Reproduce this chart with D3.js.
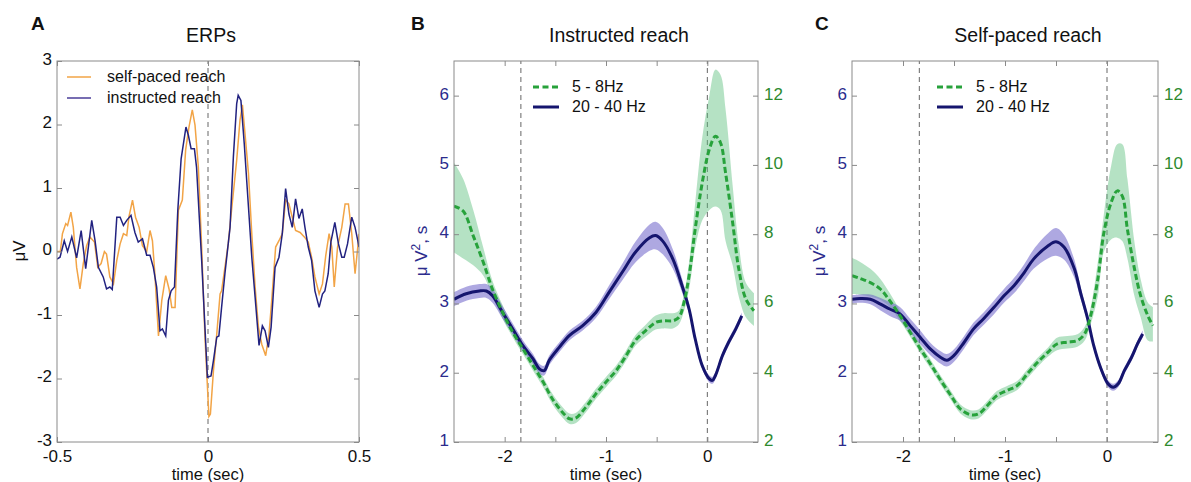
<!DOCTYPE html>
<html>
<head>
<meta charset="utf-8">
<script src="https://cdn.jsdelivr.net/npm/d3@7"></script>
<style>
  body { margin: 0; background: #fff; }
  text { font-family: "Liberation Sans", Arial, sans-serif; }
</style>
</head>
<body>
<svg id="fig" width="1191" height="482"></svg>
<script>
  var svg = d3.select("#fig");

  // ---------- panel A: ERPs (time in sec, amplitude in uV)
  var instrT = [-0.500,-0.490,-0.476,-0.465,-0.451,-0.435,-0.420,-0.405,-0.385,-0.374,-0.363,-0.347,-0.336,-0.325,-0.317,
                -0.302,-0.291,-0.280,-0.269,-0.255,-0.242,-0.231,-0.217,-0.203,-0.192,-0.181,-0.170,-0.159,-0.151,-0.140,
                -0.131,-0.122,-0.111,-0.100,-0.089,-0.073,-0.065,-0.056,-0.045,-0.038,-0.021,-0.009,-0.002,0.010,0.018,
                0.029,0.036,0.045,0.056,0.073,0.084,0.095,0.100,0.109,0.120,0.134,0.145,0.156,0.169,0.180,0.189,0.200,
                0.209,0.222,0.235,0.246,0.257,0.268,0.279,0.290,0.301,0.312,0.321,0.332,0.343,0.354,0.368,0.379,0.387,
                0.398,0.407,0.420,0.432,0.443,0.451,0.462,0.476,0.487,0.496,0.500];
  var instrV = [-0.12,-0.09,0.17,0.00,0.23,-0.10,0.33,-0.27,0.49,0.17,-0.25,-0.40,-0.59,-0.56,-0.60,
                0.54,0.54,0.41,0.49,0.57,0.30,0.15,0.20,-0.06,-0.06,-0.25,-0.56,-1.25,-1.22,-1.33,
                -0.77,-0.62,-0.56,0.65,1.46,1.96,1.83,1.62,1.62,1.33,-0.14,-1.30,-1.98,-1.96,-1.72,
                -1.35,-1.33,-0.88,-0.35,0.38,1.49,2.33,2.46,2.38,1.70,0.70,-0.09,-0.72,-1.48,-1.17,-1.25,-1.51,
                -1.19,-0.25,-0.09,0.28,0.99,0.59,0.38,0.83,0.52,0.67,0.38,0.07,-0.14,-0.62,-0.88,-0.67,-0.62,
                -0.35,0.15,0.46,0.12,-0.09,-0.09,0.12,0.54,0.38,0.17,0.07];

  var selfT = [-0.500,-0.489,-0.482,-0.471,-0.465,-0.454,-0.446,-0.435,-0.424,-0.413,-0.402,-0.391,-0.376,-0.365,-0.354,
               -0.343,-0.336,-0.325,-0.313,-0.302,-0.291,-0.280,-0.269,-0.262,-0.250,-0.240,-0.228,-0.217,-0.203,-0.192,
               -0.184,-0.176,-0.164,-0.153,-0.140,-0.129,-0.120,-0.109,-0.098,-0.085,-0.074,-0.063,-0.052,-0.043,-0.032,
               -0.021,-0.010,0.003,0.008,0.018,0.029,0.040,0.045,0.056,0.067,0.078,0.095,0.106,0.114,0.123,0.134,0.145,
               0.156,0.167,0.178,0.191,0.202,0.211,0.224,0.235,0.246,0.257,0.268,0.279,0.290,0.305,0.319,0.332,0.343,
               0.354,0.368,0.379,0.390,0.401,0.410,0.418,0.429,0.443,0.454,0.465,0.476,0.487,0.496,0.500];
  var selfV = [0.00,0.00,0.28,0.44,0.41,0.62,0.38,-0.25,-0.59,-0.19,0.09,0.23,0.15,-0.25,-0.19,
               0.00,-0.04,-0.40,-0.51,-0.14,0.12,0.28,0.25,0.54,0.81,0.54,0.38,0.09,0.00,0.33,
               0.17,-0.35,-1.33,-0.77,-0.38,-0.59,-0.88,-0.88,0.65,0.81,1.60,1.96,2.23,1.99,1.33,
               0.07,-1.35,-2.60,-2.56,-1.88,-1.30,-0.67,-0.62,-0.25,0.12,0.65,1.44,2.07,2.31,1.83,1.23,0.28,
               -0.56,-1.19,-1.46,-1.64,-1.30,-0.77,0.07,0.17,0.28,0.81,0.75,0.54,0.33,0.30,0.23,0.15,-0.09,
               -0.40,-0.67,-0.51,-0.06,0.28,0.07,-0.56,0.07,0.38,0.75,0.75,0.28,-0.35,0.07,0.28];

  // ---------- panel B: instructed reach
  var bBetaT   = [-2.50,-2.38,-2.25,-2.18,-2.12,-2.02,-1.92,-1.82,-1.72,-1.66,-1.61,-1.56,-1.46,-1.36,-1.23,-1.10,-0.97,
                  -0.84,-0.71,-0.57,-0.51,-0.44,-0.34,-0.25,-0.18,-0.12,-0.05,0.02,0.05,0.08,0.15,0.21,0.28,0.34];
  var bBeta    = [3.06,3.14,3.18,3.18,3.11,2.87,2.63,2.39,2.20,2.06,2.03,2.18,2.37,2.54,2.68,2.87,3.16,
                  3.45,3.74,3.95,3.98,3.90,3.64,3.26,2.92,2.49,2.10,1.91,1.89,1.96,2.25,2.44,2.63,2.82];
  var bBetaSem = [0.10,0.10,0.10,0.10,0.10,0.09,0.08,0.08,0.07,0.07,0.07,0.07,0.07,0.07,0.07,0.08,0.10,
                  0.12,0.15,0.19,0.20,0.19,0.14,0.10,0.07,0.05,0.05,0.05,0.05,0.05,0.05,0.05,0.05,0.05];
  var bThetaT  = [-2.50,-2.41,-2.31,-2.21,-2.12,-2.02,-1.92,-1.82,-1.72,-1.62,-1.53,-1.43,-1.36,-1.30,-1.20,-1.10,-1.00,
                  -0.90,-0.80,-0.71,-0.61,-0.51,-0.43,-0.34,-0.28,-0.23,-0.18,-0.12,-0.05,0.02,0.08,0.13,0.18,0.25,
                  0.31,0.38,0.46];
  var bTheta   = [8.81,8.67,7.95,7.18,6.41,5.74,5.17,4.69,4.21,3.73,3.25,2.86,2.67,2.69,3.00,3.39,3.73,
                  4.06,4.50,4.93,5.21,5.45,5.50,5.50,5.60,6.03,6.80,8.14,9.49,10.45,10.83,10.64,9.77,8.33,
                  7.00,6.13,5.79];
  var bThetaLo = [7.47,7.30,7.10,6.80,6.20,5.55,5.02,4.54,4.06,3.58,3.10,2.71,2.52,2.54,2.85,3.24,3.58,
                  3.91,4.35,4.78,5.04,5.25,5.28,5.28,5.40,5.78,6.40,7.60,8.40,8.70,8.80,8.70,7.80,7.10,
                  6.20,5.60,5.35];
  var bThetaHi = [10.06,9.60,8.70,7.60,6.65,5.95,5.32,4.84,4.36,3.88,3.40,3.01,2.82,2.84,3.15,3.54,3.88,
                  4.21,4.65,5.08,5.38,5.65,5.72,5.72,5.80,6.28,7.20,8.90,10.80,12.00,12.75,12.60,11.60,9.40,
                  7.70,6.60,6.30];

  // ---------- panel C: self-paced reach
  var cBetaT   = [-2.50,-2.42,-2.32,-2.22,-2.13,-2.03,-1.93,-1.83,-1.73,-1.63,-1.57,-1.50,-1.40,-1.31,-1.21,-1.11,-1.01,
                  -0.91,-0.81,-0.72,-0.58,-0.50,-0.42,-0.32,-0.26,-0.19,-0.13,-0.06,0.01,0.06,0.11,0.17,0.24,0.30,0.35];
  var cBeta    = [3.06,3.07,3.06,2.99,2.92,2.85,2.68,2.51,2.34,2.22,2.18,2.25,2.44,2.63,2.78,2.94,3.11,
                  3.26,3.45,3.64,3.83,3.89,3.81,3.50,3.16,2.78,2.39,2.06,1.84,1.79,1.84,2.03,2.22,2.42,2.56];
  var cBetaSem = [0.06,0.06,0.07,0.09,0.10,0.10,0.10,0.10,0.09,0.09,0.09,0.09,0.09,0.09,0.09,0.10,0.10,
                  0.11,0.12,0.14,0.18,0.20,0.18,0.13,0.09,0.06,0.05,0.05,0.05,0.05,0.05,0.05,0.05,0.05,0.05];
  var cThetaT  = [-2.50,-2.42,-2.32,-2.22,-2.13,-2.03,-1.93,-1.83,-1.73,-1.63,-1.53,-1.44,-1.34,-1.26,-1.17,-1.08,-0.98,
                  -0.88,-0.78,-0.68,-0.58,-0.49,-0.39,-0.29,-0.22,-0.16,-0.09,-0.03,0.04,0.10,0.15,0.20,0.27,0.33,
                  0.40,0.45];
  var cTheta   = [6.80,6.72,6.60,6.41,6.08,5.65,5.17,4.69,4.25,3.78,3.34,2.96,2.79,2.81,3.06,3.34,3.49,
                  3.63,3.97,4.30,4.59,4.83,4.88,4.93,5.12,5.65,6.70,8.05,8.91,9.25,9.10,8.14,6.99,6.22,
                  5.65,5.36];
  var cThetaLo = [6.27,6.25,6.20,6.10,5.90,5.50,5.04,4.56,4.12,3.65,3.21,2.83,2.66,2.68,2.93,3.21,3.36,
                  3.50,3.84,4.17,4.46,4.65,4.70,4.75,4.92,5.40,6.20,7.50,7.85,7.90,7.80,7.30,6.20,5.60,
                  4.93,4.90];
  var cThetaHi = [7.32,7.20,7.00,6.70,6.30,5.80,5.30,4.82,4.38,3.91,3.47,3.09,2.92,2.94,3.19,3.47,3.62,
                  3.76,4.10,4.43,4.72,5.01,5.06,5.11,5.32,5.90,7.20,8.60,9.96,10.60,10.60,9.60,7.75,6.70,
                  6.03,5.90];

  // ---------- ticks, labels, events
  var erpTimeTicks = [-0.5, 0, 0.5];
  var erpAmpTicks  = [-3, -2, -1, 0, 1, 2, 3];
  var timeTicks    = [-2, -1.5, -1, -0.5, 0];
  var betaTicks    = [1, 2, 3, 4, 5, 6];
  var thetaTicks   = [2, 4, 6, 8, 10, 12];
  var cueTimes     = [-1.84, 0];
  var bandNames    = ["5 - 8Hz", "20 - 40 Hz"];

  var frameColor = "#8a8a8a";
  var navy = "#15156e", green = "#27a23b";
  var navyText = "#2b2b8c", greenText = "#2e8a2e";
  var orange = "#f2a446", instrColor = "#222280";
  var tickFont = "17px";

  function fmt(d) { return String(d); }
  function fmtInt(d) { return Number.isInteger(d) ? String(d) : ""; }

  // box with inward ticks on all four sides (matlab look)
  function frame(g, x, y, xt, yt, xfmt, opts) {
    var x0 = x.range()[0], x1 = x.range()[1], yb = y.range()[0], yt0 = y.range()[1];
    g.append("rect").attr("x", x0).attr("y", yt0).attr("width", x1 - x0).attr("height", yb - yt0)
      .attr("fill", "none").attr("stroke", frameColor).attr("stroke-width", 1);

    var ax = [];
    ax.push(g.append("g").attr("transform", "translate(0," + yb + ")")
      .call(d3.axisBottom(x).tickValues(xt).tickSize(-5).tickPadding(8).tickFormat(xfmt)));
    ax.push(g.append("g").attr("transform", "translate(0," + yt0 + ")")
      .call(d3.axisTop(x).tickValues(xt).tickSize(-5).tickFormat("")));
    var left = g.append("g").attr("transform", "translate(" + x0 + ",0)")
      .call(d3.axisLeft(y).tickValues(yt).tickSize(-5).tickPadding(opts.padL).tickFormat(fmt));
    left.selectAll("text").attr("fill", opts.leftColor).attr("dy", "0.2em");
    ax.push(left);
    var right = g.append("g").attr("transform", "translate(" + x1 + ",0)")
      .call(d3.axisRight(opts.yR || y).tickValues(opts.yRTicks || yt).tickSize(-5).tickPadding(6)
        .tickFormat(opts.yR ? fmt : ""));
    right.selectAll("text").attr("fill", opts.rightColor || "#000").attr("dy", "0.2em");
    ax.push(right);

    ax.forEach(function(a) {
      a.select(".domain").remove();
      a.selectAll("line").attr("stroke", frameColor);
      a.selectAll("text").style("font-size", tickFont);
    });
    ax[0].selectAll("text").attr("fill", "#111");
  }

  function vline(g, x, y, t) {
    g.append("line").attr("x1", x(t)).attr("x2", x(t))
      .attr("y1", y.range()[0]).attr("y2", y.range()[1])
      .attr("stroke", "#666").attr("stroke-width", 1).attr("stroke-dasharray", "5,4");
  }

  function txt(x, y, s, size, opts) {
    opts = opts || {};
    return svg.append("text").attr("x", x).attr("y", y).text(s)
      .style("font-size", size + "px")
      .attr("text-anchor", opts.anchor || "start")
      .attr("font-weight", opts.bold ? "bold" : "normal")
      .attr("fill", opts.color || "#111");
  }

  // ================= panel A
  (function() {
    var x = d3.scaleLinear().domain([-0.5, 0.5]).range([57, 359]);
    var y = d3.scaleLinear().domain([-3, 3]).range([442, 61]);
    var g = svg.append("g");
    g.append("clipPath").attr("id", "clipA").append("rect")
      .attr("x", 57).attr("y", 61).attr("width", 302).attr("height", 381);

    vline(g, x, y, 0);

    var line = d3.line().x(function(d) { return x(d[0]); }).y(function(d) { return y(d[1]); });
    var inner = g.append("g").attr("clip-path", "url(#clipA)");
    inner.append("path").datum(d3.zip(selfT, selfV)).attr("d", line)
      .attr("fill", "none").attr("stroke", orange).attr("stroke-width", 1.5);
    inner.append("path").datum(d3.zip(instrT, instrV)).attr("d", line)
      .attr("fill", "none").attr("stroke", instrColor).attr("stroke-width", 1.5);

    frame(g, x, y, erpTimeTicks, erpAmpTicks, fmt, { padL: 5, leftColor: "#111" });

    // legend
    g.append("line").attr("x1", 67).attr("x2", 91).attr("y1", 77).attr("y2", 77)
      .attr("stroke", orange).attr("stroke-width", 1.5);
    g.append("line").attr("x1", 67).attr("x2", 91).attr("y1", 98).attr("y2", 98)
      .attr("stroke", "#4a3d98").attr("stroke-width", 1.5);
    txt(107, 82, "self-paced reach", 16);
    txt(107, 103, "instructed reach", 16);

    txt(x(0), 480, "time (sec)", 16.5, { anchor: "middle" });
    txt(211, 42, "ERPs", 19.5, { anchor: "middle" });
    txt(31, 30, "A", 19, { bold: true });
    svg.append("text").attr("transform", "translate(25,251) rotate(-90)")
      .attr("text-anchor", "middle").style("font-size", "17px").attr("fill", "#111").text("μV");
  })();

  // ================= panels B and C
  function powerPanel(id, x0, x1, betaT, beta, betaSem, thetaT, theta, thetaLo, thetaHi, title, letter, letterX, titleX, legX) {
    var x = d3.scaleLinear().domain([-2.5, 0.5]).range([x0, x1]);
    var yL = d3.scaleLinear().domain([1, 6.5]).range([442, 61]);
    var yR = d3.scaleLinear().domain([2, 13]).range([442, 61]);
    var g = svg.append("g");
    g.append("clipPath").attr("id", id).append("rect")
      .attr("x", x0).attr("y", 61).attr("width", x1 - x0).attr("height", 381);

    cueTimes.forEach(function(t) { vline(g, x, yL, t); });

    var inner = g.append("g").attr("clip-path", "url(#" + id + ")");
    var curve = d3.curveCatmullRom.alpha(0.5);

    var thetaRows = thetaT.map(function(t, i) { return { t: t, m: theta[i], lo: thetaLo[i], hi: thetaHi[i] }; });
    var betaRows = betaT.map(function(t, i) { return { t: t, m: beta[i], lo: beta[i] - betaSem[i], hi: beta[i] + betaSem[i] }; });

    inner.append("path").datum(thetaRows)
      .attr("d", d3.area().curve(curve).x(function(d) { return x(d.t); })
        .y0(function(d) { return yR(d.lo); }).y1(function(d) { return yR(d.hi); }))
      .attr("fill", "#5cbf7d").attr("fill-opacity", 0.45);
    inner.append("path").datum(betaRows)
      .attr("d", d3.area().curve(curve).x(function(d) { return x(d.t); })
        .y0(function(d) { return yL(d.lo); }).y1(function(d) { return yL(d.hi); }))
      .attr("fill", "#6c60c8").attr("fill-opacity", 0.55);

    inner.append("path").datum(betaRows)
      .attr("d", d3.line().curve(curve).x(function(d) { return x(d.t); }).y(function(d) { return yL(d.m); }))
      .attr("fill", "none").attr("stroke", navy).attr("stroke-width", 3);
    inner.append("path").datum(thetaRows)
      .attr("d", d3.line().curve(curve).x(function(d) { return x(d.t); }).y(function(d) { return yR(d.m); }))
      .attr("fill", "none").attr("stroke", green).attr("stroke-width", 3).attr("stroke-dasharray", "6,3");

    frame(g, x, yL, timeTicks, betaTicks, fmtInt,
      { padL: 5, leftColor: navyText, yR: yR, yRTicks: thetaTicks, rightColor: greenText });

    // legend
    g.append("line").attr("x1", legX).attr("x2", legX + 26).attr("y1", 87).attr("y2", 87)
      .attr("stroke", green).attr("stroke-width", 3).attr("stroke-dasharray", "6,3.5");
    g.append("line").attr("x1", legX).attr("x2", legX + 26).attr("y1", 107).attr("y2", 107)
      .attr("stroke", navy).attr("stroke-width", 3);
    txt(legX + 39, 92, bandNames[0], 16);
    txt(legX + 39, 112, bandNames[1], 16);

    txt(x(-1), 480, "time (sec)", 16.5, { anchor: "middle" });
    txt(titleX, 42, title, 19.5, { anchor: "middle" });
    txt(letterX, 30, letter, 19, { bold: true });
    var yl = svg.append("text").attr("transform", "translate(" + (x0 - 27) + ",251) rotate(-90)")
      .attr("text-anchor", "middle").style("font-size", "17px").attr("fill", navyText);
    yl.append("tspan").text("μ V");
    yl.append("tspan").attr("dy", -7).style("font-size", "12px").text("2");
    yl.append("tspan").attr("dy", 7).text(", s");
  }

  powerPanel("clipB", 454, 758, bBetaT, bBeta, bBetaSem, bThetaT, bTheta, bThetaLo, bThetaHi,
    "Instructed reach", "B", 411, 619, 533);
  powerPanel("clipC", 852, 1158, cBetaT, cBeta, cBetaSem, cThetaT, cTheta, cThetaLo, cThetaHi,
    "Self-paced reach", "C", 815, 1028, 937);
</script>
</body>
</html>
